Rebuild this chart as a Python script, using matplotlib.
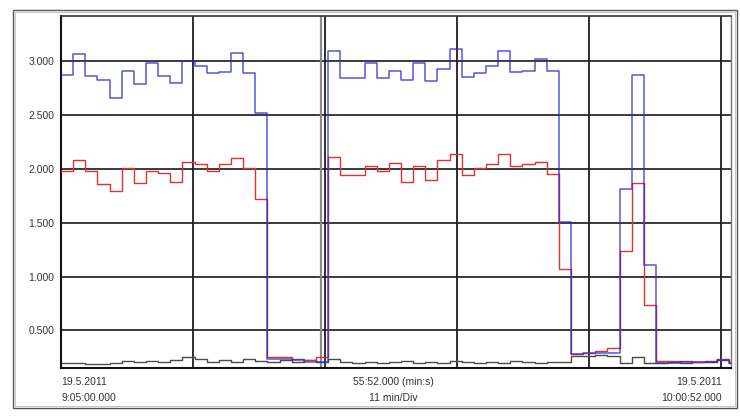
import matplotlib
matplotlib.use('Agg')
import matplotlib.pyplot as plt
import numpy as np
from matplotlib.patches import Rectangle

plt.rcParams['font.family'] = ['Liberation Sans', 'DejaVu Sans']

# ---- data ----
SAMPLE_MIN = 1.0125            # sampling interval in minutes
T_END = 55 + 52 / 60           # 55:52.000 (min:s)

blue = [2.87, 3.06, 2.86, 2.82, 2.66, 2.91, 2.79, 2.98, 2.86, 2.80,
        3.00, 2.95, 2.89, 2.90, 3.07, 2.89, 2.52, 0.24, 0.24, 0.23,
        0.21, 0.21, 3.09, 2.84, 2.84, 2.98, 2.84, 2.91, 2.82, 2.98,
        2.81, 2.93, 3.11, 2.85, 2.89, 2.95, 3.09, 2.90, 2.91, 3.02,
        2.91, 1.51, 0.28, 0.29, 0.29, 0.29, 1.81, 2.87, 1.11, 0.20,
        0.20, 0.21, 0.21, 0.21, 0.23, 0.20]

red = [1.98, 2.08, 1.98, 1.86, 1.79, 2.01, 1.87, 1.98, 1.96, 1.88,
       2.06, 2.04, 1.98, 2.04, 2.10, 2.01, 1.72, 0.25, 0.25, 0.24,
       0.23, 0.25, 2.11, 1.94, 1.94, 2.03, 1.98, 2.05, 1.88, 2.03,
       1.90, 2.08, 2.14, 1.94, 2.01, 2.04, 2.14, 2.03, 2.04, 2.06,
       1.95, 1.07, 0.28, 0.29, 0.31, 0.34, 1.24, 1.87, 0.74, 0.22,
       0.22, 0.22, 0.21, 0.22, 0.24, 0.21]

gray = [0.20, 0.20, 0.19, 0.19, 0.20, 0.22, 0.21, 0.22, 0.21, 0.23,
        0.25, 0.24, 0.21, 0.23, 0.21, 0.24, 0.22, 0.21, 0.23, 0.21,
        0.23, 0.21, 0.24, 0.21, 0.20, 0.21, 0.20, 0.21, 0.22, 0.20,
        0.21, 0.20, 0.22, 0.21, 0.20, 0.21, 0.20, 0.22, 0.21, 0.20,
        0.21, 0.21, 0.26, 0.26, 0.27, 0.26, 0.20, 0.25, 0.20, 0.20,
        0.21, 0.20, 0.21, 0.21, 0.23, 0.20]

ytick_vals = [0.5, 1.0, 1.5, 2.0, 2.5, 3.0]
ytick_labels = ['0.500', '1.000', '1.500', '2.000', '2.500', '3.000']
xgrid_min = [11, 22, 33, 44, 55]
cursor_min = 21.68

# ---- figure ----
W, H = 740, 419
fig = plt.figure(figsize=(W / 100, H / 100), dpi=100)
fig.patch.set_facecolor('white')

# outer frame
fig.patches.append(Rectangle((13 / W, 1 - 408 / H), 724 / W, 398 / H,
                             transform=fig.transFigure, fill=False,
                             edgecolor='#555555', lw=1.0))
fig.patches.append(Rectangle((15 / W, 1 - 406 / H), 720 / W, 394 / H,
                             transform=fig.transFigure, fill=False,
                             edgecolor='#bbbbbb', lw=0.6))

ax = fig.add_axes([61 / W, 1 - 368 / H, 670 / W, 352 / H])

def ext(vals):
    t = np.arange(len(vals)) * SAMPLE_MIN
    t = np.append(t, T_END)
    v = np.append(np.asarray(vals, float), vals[-1])
    return t, v

for y in ytick_vals:
    ax.axhline(y, color='#2b2b2b', lw=1.3, zorder=1)
for x in xgrid_min:
    ax.axvline(x, color='#1e1e1e', lw=1.3, zorder=1)
ax.axvline(cursor_min, color='#8a8a8a', lw=1.6, zorder=1)

tg, vg = ext(gray)
ax.step(tg, vg, where='post', color='#4a4a4a', lw=1.0, zorder=2)
tr, vr = ext(red)
ax.step(tr, vr, where='post', color='#e03030', lw=1.0, zorder=3)
tb, vb = ext(blue)
ax.step(tb, vb, where='post', color='#2a2ad0', lw=1.1, alpha=0.8, zorder=4)

ax.set_xlim(0, T_END)
ax.set_ylim(0.152, 3.417)
ax.set_xticks([])
ax.set_yticks(ytick_vals)
ax.set_yticklabels(ytick_labels)
ax.tick_params(axis='y', length=0, pad=5, labelsize=7.5, labelcolor='#333333')

for s in ['left', 'bottom']:
    ax.spines[s].set_color('#111111')
    ax.spines[s].set_linewidth(1.5)
ax.spines['top'].set_color('#333333')
ax.spines['top'].set_linewidth(1.2)
ax.spines['right'].set_color('#777777')
ax.spines['right'].set_linewidth(1.0)

tc = '#333333'
fs = 7.5
fig.text(61 / W, 1 - 382 / H, '19.5.2011', ha='left', va='center', fontsize=fs, color=tc)
fig.text(61 / W, 1 - 398 / H, '9:05:00.000', ha='left', va='center', fontsize=fs, color=tc)
fig.text(393 / W, 1 - 382 / H, '55:52.000 (min:s)', ha='center', va='center', fontsize=fs, color=tc)
fig.text(393 / W, 1 - 398 / H, '11 min/Div', ha='center', va='center', fontsize=fs, color=tc)
fig.text(722 / W, 1 - 382 / H, '19.5.2011', ha='right', va='center', fontsize=fs, color=tc)
fig.text(722 / W, 1 - 398 / H, '10:00:52.000', ha='right', va='center', fontsize=fs, color=tc)

fig.savefig('out.png', dpi=100, facecolor='white')
